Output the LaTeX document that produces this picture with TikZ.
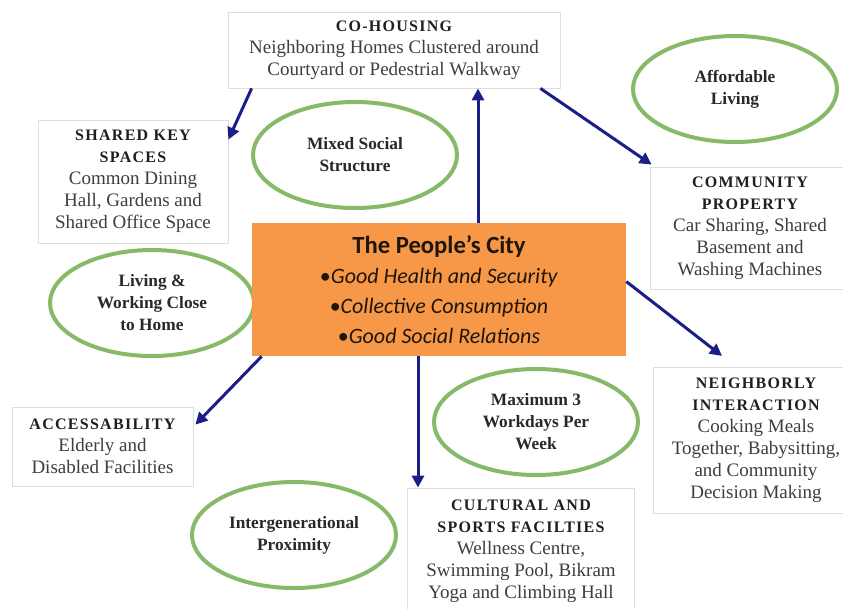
\documentclass[tikz,border=0pt]{standalone}
\usepackage{fontspec}
\setmainfont{Liberation Serif}
\newfontfamily\calfont{Carlito}
\newfontfamily\headfont[LetterSpace=8]{Liberation Serif}
\usetikzlibrary{shapes.geometric,arrows.meta}
\newcommand{\headline}[1]{{\headfont\bfseries\color{black!88}\fontsize{12}{16.5}\selectfont #1}}

\begin{document}
\begin{tikzpicture}[x=0.75pt,y=0.75pt,yscale=-1,xscale=1,
	infobox/.style={draw={rgb, 255:red, 221; green, 221; blue, 221}, line width=0.6pt, fill=white, inner sep=0pt, align=center, text={rgb, 255:red, 62; green, 62; blue, 62}, font=\fontsize{14.25}{16.5}\selectfont},
	goal/.style={ellipse, draw={rgb, 255:red, 134; green, 186; blue, 104}, line width=3pt, fill=white, inner sep=0pt, align=center, text={rgb, 255:red, 40; green, 40; blue, 40}, font=\bfseries\fontsize{13}{16.5}\selectfont, minimum width=153pt, minimum height=79.5pt},
	hub/.style={fill={rgb, 255:red, 247; green, 152; blue, 72}, inner sep=0pt, align=center, text={rgb, 255:red, 30; green, 22; blue, 10}, font=\calfont\fontsize{16.5}{22.5}\selectfont},
	link/.style={draw={rgb, 255:red, 28; green, 30; blue, 135}, line width=2.25pt, -{Triangle[length=9pt,width=9pt]}}]
	\useasboundingbox (0,0) rectangle (843,608);
	% ellipses
	\node [goal] (mixed) at (355,155) {Mixed Social\\Structure};
	\node [goal] (afford) at (735,89) {Affordable\\Living};
	\node [goal] (living) at (152,303) {Living \&\\Working Close\\to Home};
	\node [goal] (interg) at (294,535) {Intergenerational\\Proximity};
	\node [goal] (maxim) at (536,422) {Maximum 3\\Workdays Per\\Week};
	% centre
	\node [hub, minimum width=280.5pt, minimum height=99.75pt] (city) at (439,289.5) {{\bfseries\fontsize{18.5}{22.5}\selectfont The People’s City}\\\textbullet\textit{Good Health and Security}\\\textbullet\textit{Collective Consumption}\\\textbullet\textit{Good Social Relations}};
	% boxes
	\node [infobox, minimum width=249pt, minimum height=57pt] (cohouse) at (394,50) {\headline{CO-HOUSING}\\Neighboring Homes Clustered around\\Courtyard or Pedestrial Walkway};
	\node [infobox, minimum width=142.5pt, minimum height=92.25pt] (shared) at (133,181.5) {\headline{SHARED KEY}\\\headline{SPACES}\\Common Dining\\Hall, Gardens and\\Shared Office Space};
	\node [infobox, minimum width=150pt, minimum height=91.5pt] (community) at (750,228) {\headline{COMMUNITY}\\\headline{PROPERTY}\\Car Sharing, Shared\\Basement and\\Washing Machines};
	\node [infobox, minimum width=135.75pt, minimum height=59.25pt] (access) at (102.5,446.5) {\headline{ACCESSABILITY}\\Elderly and\\Disabled Facilities};
	\node [infobox, minimum width=170.25pt, minimum height=95.25pt] (cultural) at (521,551.5) {\headline{CULTURAL AND}\\\headline{SPORTS FACILTIES}\\Wellness Centre,\\Swimming Pool, Bikram\\Yoga and Climbing Hall};
	\node [infobox, minimum width=154.5pt, minimum height=109.5pt] (neighbor) at (756,440) {\headline{NEIGHBORLY}\\\headline{INTERACTION}\\Cooking Meals\\Together, Babysitting,\\and Community\\Decision Making};
	% arrows
	\draw [link] ([xshift=29.25pt]city.north) -- ([xshift=29.25pt]city.north |- cohouse.south);
	\draw [link] ([xshift=18pt]cohouse.south west) -- ([yshift=15pt]shared.north east);
	\draw [link] ([xshift=-15pt]cohouse.south east) -- ([xshift=1.5pt,yshift=-1.5pt]community.north west);
	\draw [link] ([yshift=-6pt]city.east) -- ([xshift=-25.5pt,yshift=-8pt]neighbor.north);
	\draw [link] ([xshift=7.5pt]city.south west) -- ([xshift=1.5pt,yshift=13.5pt]access.north east);
	\draw [link] ([xshift=-15.75pt]city.south) -- ([xshift=-15.75pt]city.south |- cultural.north);
\end{tikzpicture}
\end{document}
